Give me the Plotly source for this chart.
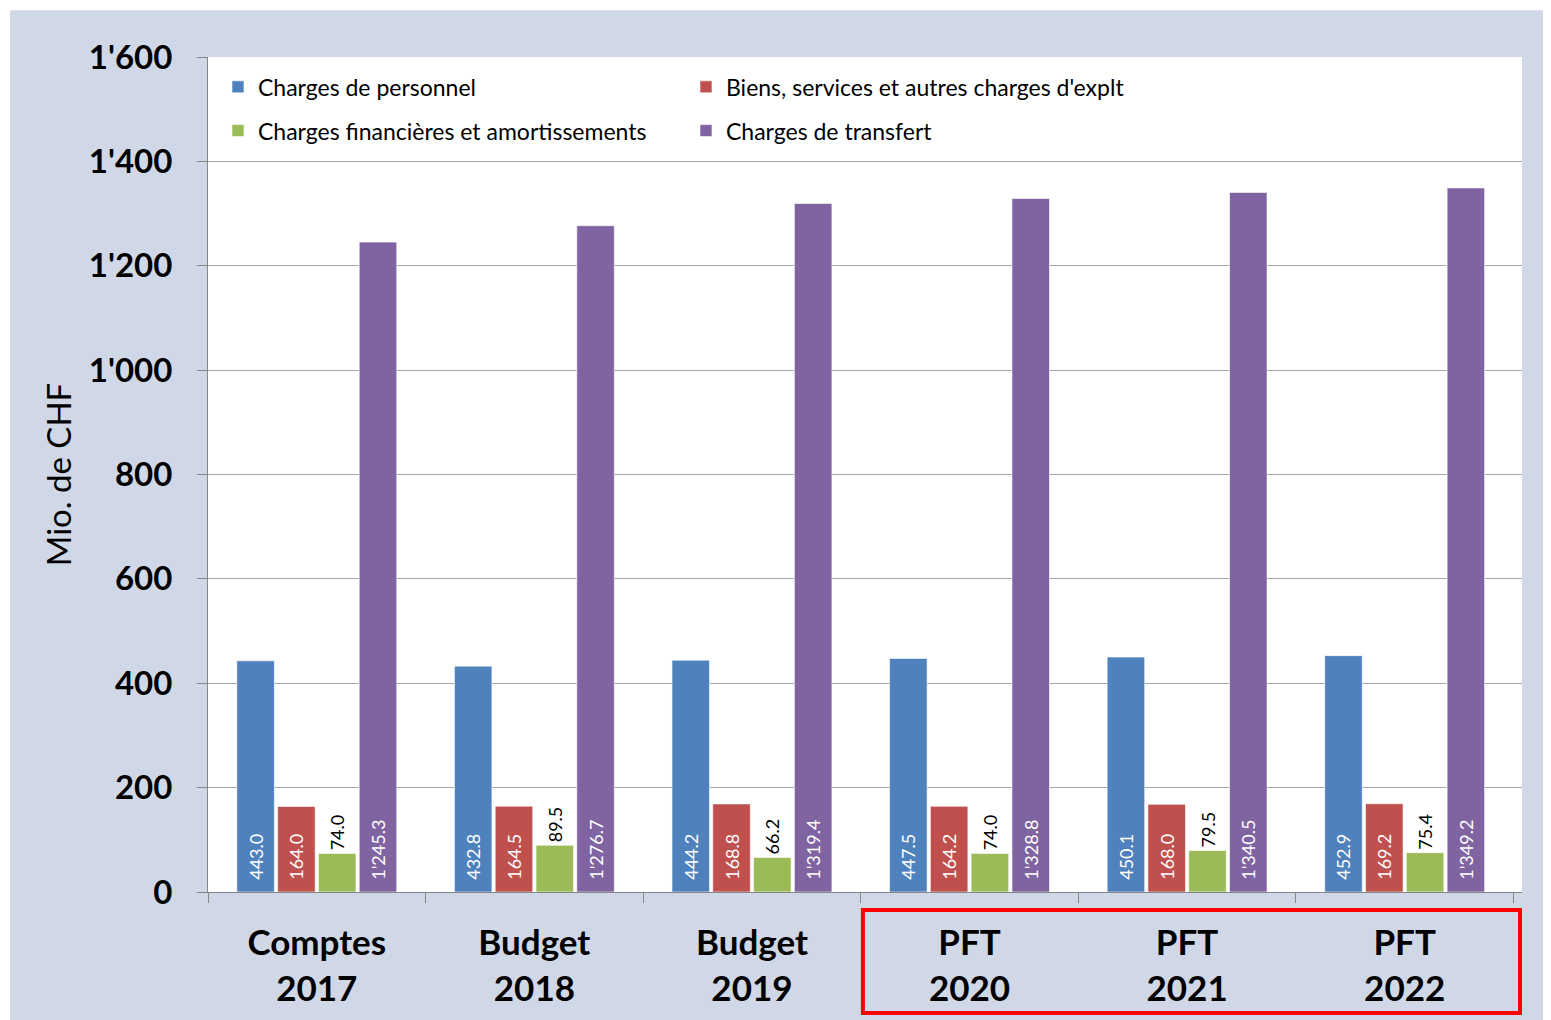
import plotly.graph_objects as go

categories = ["Comptes<br>2017", "Budget<br>2018", "Budget<br>2019",
              "PFT<br>2020", "PFT<br>2021", "PFT<br>2022"]
personnel = [443.0, 432.8, 444.2, 447.5, 450.1, 452.9]
biens = [164.0, 164.5, 168.8, 164.2, 168.0, 169.2]
financieres = [74.0, 89.5, 66.2, 74.0, 79.5, 75.4]
transfert = [1245.3, 1276.7, 1319.4, 1328.8, 1340.5, 1349.2]

FONT = "Lato"
BG = "#D0D8E7"

series = [
    ("Charges de personnel", personnel, "#4F81BD", "legend", "inside"),
    ("Biens, services et autres charges d'explt", biens, "#C0504D", "legend", "inside"),
    ("Charges financières et amortissements", financieres, "#9BBB59", "legend2", "outside"),
    ("Charges de transfert", transfert, "#8064A2", "legend2", "inside"),
]

fig = go.Figure()
for name, vals, col, leg, pos in series:
    # inside labels sit a little above the bar base
    tmpl = "\u00a0\u00a0%{y:,.1f}" if pos == "inside" else "%{y:,.1f}"
    fig.add_trace(go.Bar(
        x=categories, y=vals, name=name,
        marker=dict(color=col, line=dict(color="rgba(255,255,255,0.6)", width=1)),
        texttemplate=tmpl,
        textposition=pos,
        insidetextanchor="start",
        textangle=-90,
        constraintext="none",
        cliponaxis=False,
        insidetextfont=dict(family=FONT, size=18, color="white"),
        outsidetextfont=dict(family=FONT, size=18, color="black"),
        legend=leg,
    ))

# page body adds an 8px margin, so the figure is 8px smaller
fig.update_layout(
    width=1543, height=1012,
    margin=dict(l=200, r=29, t=49, b=124),
    paper_bgcolor=BG,
    plot_bgcolor="white",
    separators=".'",
    barmode="group",
    bargap=0.25,
    bargroupgap=0.08,
    font=dict(family=FONT, color="black"),
    legend=dict(orientation="h", x=0.0076, xanchor="left", y=0.9642, yanchor="middle",
                entrywidth=423, bgcolor="rgba(0,0,0,0)",
                font=dict(family=FONT, size=23, color="black")),
    legend2=dict(orientation="h", x=0.0076, xanchor="left", y=0.9118, yanchor="middle",
                 entrywidth=423, bgcolor="rgba(0,0,0,0)",
                 font=dict(family=FONT, size=23, color="black")),
)

fig.update_yaxes(
    range=[0, 1600], dtick=200, tickformat=",",
    showgrid=True, gridcolor="#A6A6A6", gridwidth=1,
    showline=True, linecolor="#868686", linewidth=1,
    ticks="outside", ticklen=10, tickcolor="#868686",
    ticklabelstandoff=18,
    tickfont=dict(family=FONT, size=33, color="black", weight="bold"),
    title=dict(text="Mio. de CHF", standoff=7,
               font=dict(family=FONT, size=33, color="black")),
    zeroline=False,
)
fig.update_xaxes(
    tickson="boundaries", ticks="outside", ticklen=10, tickcolor="#868686",
    showline=True, linecolor="#868686", linewidth=1,
    ticklabelstandoff=20,
    tickfont=dict(family=FONT, size=35, color="black", weight="bold"),
)

# thin white strips at top and left edge
fig.add_shape(type="rect", xref="paper", yref="paper",
              x0=-0.2, x1=1.1, y0=(888 - 2) / 839, y1=1.1,
              fillcolor="white", line_width=0)
fig.add_shape(type="rect", xref="paper", yref="paper",
              x0=-0.2, x1=(2 - 200) / 1314, y0=-0.2, y1=1.1,
              fillcolor="white", line_width=0)

# red frame around the PFT years
fig.add_shape(type="rect", xref="x", yref="paper",
              x0=2.51, x1=5.53, y0=-0.145, y1=-0.0215,
              line=dict(color="#FF0000", width=4), fillcolor="rgba(0,0,0,0)")

fig.write_html("out.html")
